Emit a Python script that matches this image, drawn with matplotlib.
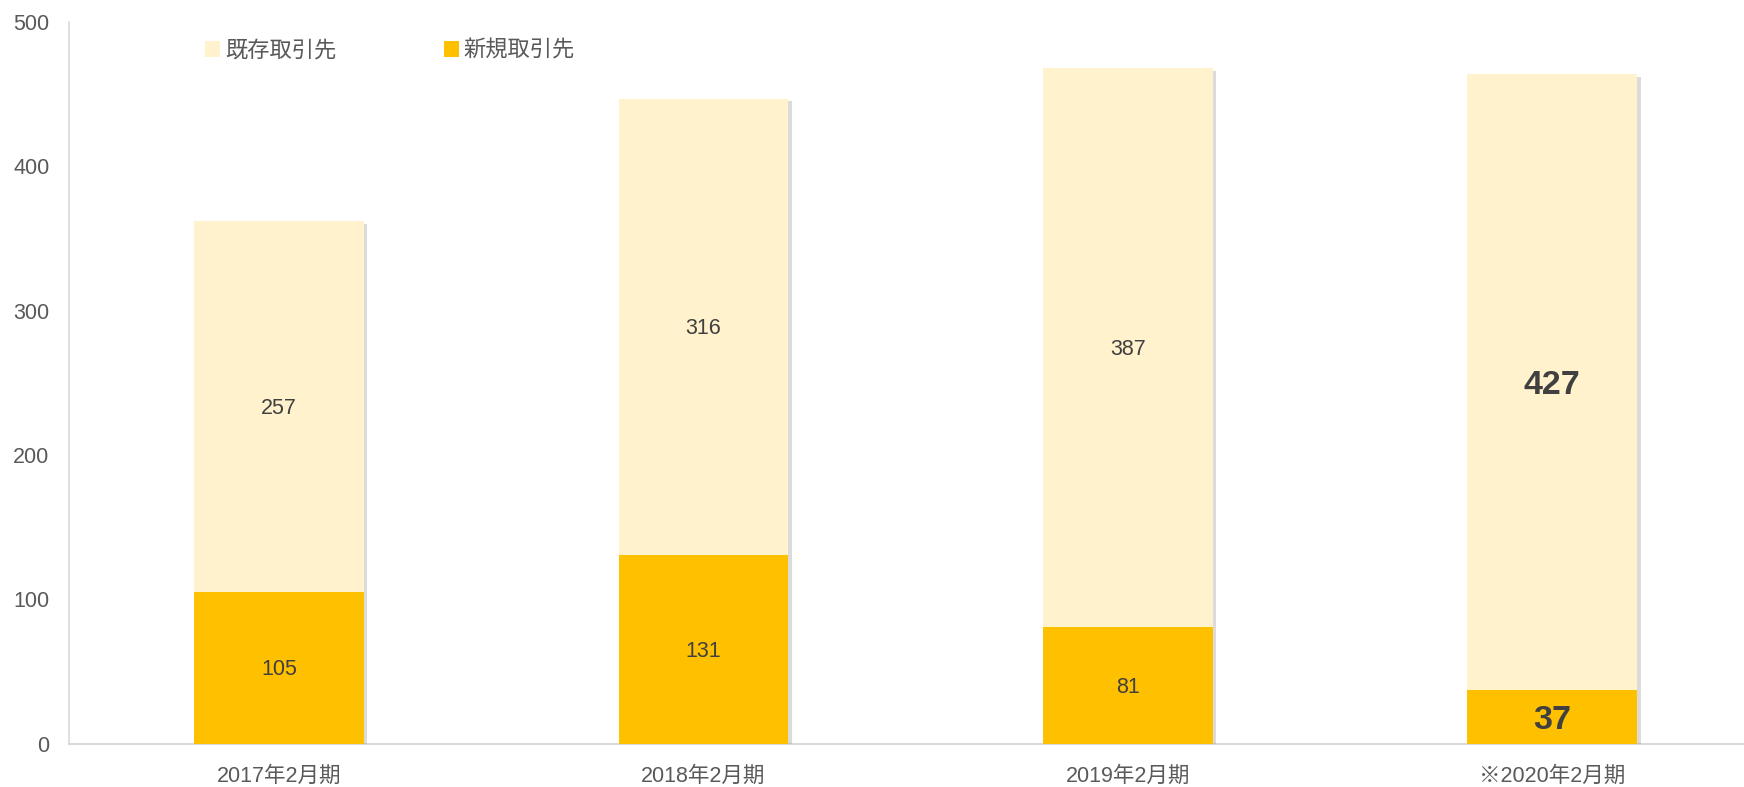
import matplotlib
matplotlib.use("Agg")
import matplotlib.pyplot as plt
import matplotlib.patheffects as pe
from matplotlib.patches import Patch
from matplotlib.transforms import offset_copy

categories = ["2017年2月期", "2018年2月期", "2019年2月期", "※2020年2月期"]
new_clients = [105, 131, 81, 37]
existing_clients = [257, 316, 387, 427]
series_names = ["既存取引先", "新規取引先"]

plt.rcParams['font.family'] = ['Liberation Sans', 'Noto Sans CJK JP', 'DejaVu Sans']

c_light = '#FFF2CC'
c_dark = '#FFC000'
txt = '#404040'

fig = plt.figure(figsize=(17.44, 7.87), dpi=100)
ax = fig.add_axes([0.0396, 0.055, 0.9604, 0.917])

x = list(range(len(categories)))
shadow = [pe.SimplePatchShadow(offset=(2.5, -2), shadow_rgbFace='#999999', alpha=0.35), pe.Normal()]
b1 = ax.bar(x, new_clients, width=0.4, color=c_dark, zorder=3)
b2 = ax.bar(x, existing_clients, width=0.4, bottom=new_clients, color=c_light, zorder=2)
for r in list(b1) + list(b2):
    r.set_path_effects(shadow)

for i in x:
    bold = (i == len(x) - 1)
    fs = 24.5 if bold else 15.5
    fw = 'bold' if bold else 'normal'
    tr = offset_copy(ax.transData, fig=fig, x=0, y=-3 if bold else -2, units='dots')
    ax.text(i, new_clients[i] / 2, str(new_clients[i]), ha='center', va='center',
            fontsize=fs, fontweight=fw, color=txt, zorder=5, transform=tr)
    ax.text(i, new_clients[i] + existing_clients[i] / 2, str(existing_clients[i]),
            ha='center', va='center', fontsize=fs, fontweight=fw, color=txt, zorder=5,
            transform=tr)

ax.set_xlim(-0.495, 3.452)
ax.set_ylim(0, 500)
ax.set_yticks([0, 100, 200, 300, 400, 500])
ax.set_xticks(x)
ax.set_xticklabels(categories)
ax.tick_params(axis='both', length=0, labelsize=15.5, colors='#595959')
ax.tick_params(axis='x', pad=16)
ax.tick_params(axis='y', pad=14)
for s in ['top', 'right']:
    ax.spines[s].set_visible(False)
ax.spines['left'].set_color('#D9D9D9')
ax.spines['bottom'].set_color('#D9D9D9')
ax.spines['left'].set_linewidth(1.2)
ax.spines['bottom'].set_linewidth(1.5)

handles = [Patch(facecolor=c_light, edgecolor='none'), Patch(facecolor=c_dark, edgecolor='none')]
fig.legend(handles, series_names, loc='center left', bbox_to_anchor=(0.106, 0.935),
           ncol=2, frameon=False, fontsize=16, handlelength=0.7, handleheight=0.7,
           handletextpad=0.2, columnspacing=4.85, labelcolor='#595959')

fig.savefig('out.png', dpi=100)
